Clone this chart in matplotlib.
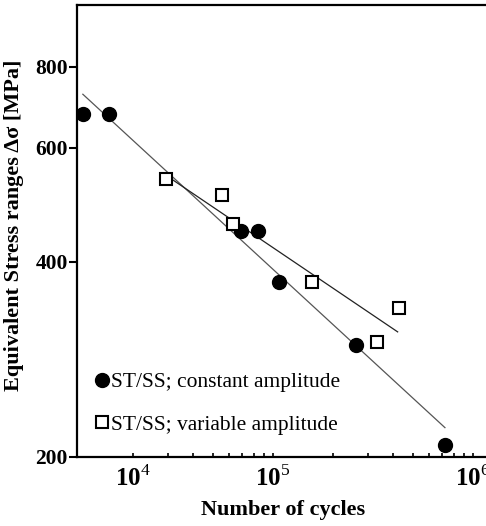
import matplotlib
matplotlib.use("Agg")
import matplotlib.pyplot as plt

plt.rcParams['font.family'] = ['Liberation Serif', 'DejaVu Serif']
plt.rcParams['mathtext.fontset'] = 'custom'
plt.rcParams['mathtext.rm'] = 'Liberation Serif'
plt.rcParams['mathtext.bf'] = 'Liberation Serif:bold'

# constant amplitude (filled circles)
n_const = [1.12e4, 1.51e4, 6.9e4, 8.4e4, 1.07e5, 2.6e5, 7.24e5]
s_const = [676, 676, 446, 446, 372, 298, 209]

# variable amplitude (open squares)
n_var = [2.92e4, 5.56e4, 6.3e4, 1.57e5, 3.3e5, 4.27e5]
s_var = [537, 507, 458, 372, 301, 340]

# fitted lines (end points)
fit_const_n = [1.12e4, 7.24e5]
fit_const_s = [726, 222]
fit_var_n = [2.95e4, 4.2e5]
fit_var_s = [543, 312]

yticks = [200, 400, 600, 800]
xtick_pos = [2e4, 1e5, 1e6]
xtick_lab = [r'$\mathbf{10}^{\mathrm{4}}$', r'$\mathbf{10}^{\mathrm{5}}$', r'$\mathbf{10}^{\mathrm{6}}$']

fig = plt.figure(figsize=(4.86, 5.26), dpi=100)
ax = fig.add_axes([77/486, 69/526, 443/486, 452/526])

ax.plot(fit_const_n, fit_const_s, color='#555555', lw=0.9)
ax.plot(fit_var_n, fit_var_s, color='#222222', lw=0.9)
ax.plot(n_const, s_const, 'o', color='black', ms=10, ls='none',
        label='ST/SS; constant amplitude')
ax.plot(n_var, s_var, 's', mfc='white', mec='black', mew=1.5, ms=9.3, ls='none',
        label='ST/SS; variable amplitude')

ax.set_xscale('log')
ax.set_yscale('log')
ax.set_xlim(10**4.02, 10**6.235)
ax.set_ylim(200, 997)

ax.set_yticks(yticks)
ax.set_yticklabels([str(v) for v in yticks], fontweight='bold', fontsize=15.5)
ax.yaxis.set_minor_locator(matplotlib.ticker.NullLocator())
ax.tick_params(axis='y', direction='out', length=6, width=1.5, pad=0.5)

ax.xaxis.set_minor_locator(matplotlib.ticker.LogLocator(base=10, subs=range(2, 10)))
ax.xaxis.set_minor_formatter(matplotlib.ticker.NullFormatter())
ax.set_xticks(xtick_pos)
ax.set_xticklabels(xtick_lab, fontsize=18)
ax.tick_params(axis='x', which='both', direction='in', length=3, width=1.2, pad=6)

for sp in ax.spines.values():
    sp.set_linewidth(1.6)

ax.set_xlabel('Number of cycles', fontweight='bold', fontsize=16)
ax.xaxis.set_label_coords(0.465, -0.095)
ax.set_ylabel('Equivalent Stress ranges Δσ [MPa]', fontweight='bold', fontsize=16)
ax.yaxis.set_label_coords(-0.12, 0.513)

ax.legend(loc='upper left', bbox_to_anchor=(0.02, 0.207), frameon=False,
          fontsize=15.5, handlelength=0.7, handletextpad=0.05, labelspacing=1.04,
          borderaxespad=0)

fig.savefig('out.png', dpi=100)
